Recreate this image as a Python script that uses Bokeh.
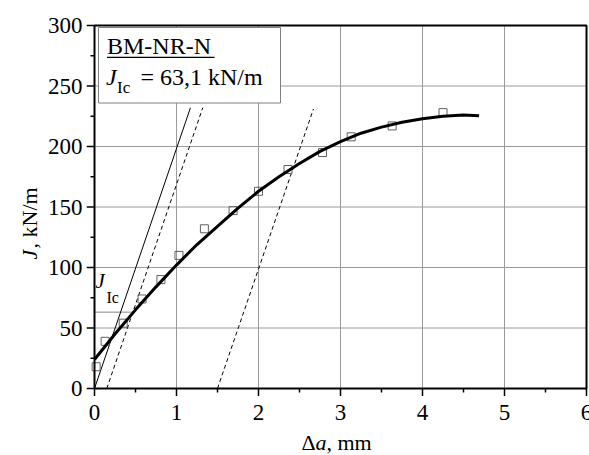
import numpy as np
from bokeh.plotting import figure
from bokeh.layouts import row, column
from bokeh.models import Range1d, Label, BoxAnnotation
from bokeh.embed import file_html
from bokeh.resources import INLINE

# ---------------- data ----------------
da_points = [0.02, 0.13, 0.35, 0.58, 0.81, 1.03, 1.34, 1.69, 2.00, 2.36, 2.78, 3.13, 3.63, 4.25]
j_points = [18, 39, 54, 74, 90, 110, 132, 147, 163, 181, 195, 208, 217, 228]

fit_da = [0, 0.25, 0.5, 0.75, 1.0, 1.25, 1.5, 1.75, 2.0, 2.25, 2.5, 2.75,
          3.0, 3.25, 3.5, 3.75, 4.0, 4.25, 4.5, 4.69]
fit_j = [24, 45, 65, 84, 102, 119, 134, 149, 163, 175, 186, 196,
         204, 211, 216, 220, 223, 225, 226, 225.5]

blunt_x = [0.0, 1.17]
blunt_y = [0, 232]
excl1_x = [0.15, 1.32]
excl1_y = [0, 232]
excl2_x = [1.5, 2.67]
excl2_y = [0, 231]
jic_x = [0.0, 0.47]
jic_y = [63.1, 63.1]

X_MIN, X_MAX = 0, 6
Y_MIN, Y_MAX = 0, 300
x_tick_values = [0, 1, 2, 3, 4, 5, 6]
x_tick_labels = ["0", "1", "2", "3", "4", "5", "6"]
x_minor_values = [0.5, 1.5, 2.5, 3.5, 4.5, 5.5]
y_tick_values = [0, 50, 100, 150, 200, 250, 300]
y_tick_labels = ["0", "50", "100", "150", "200", "250", "300"]
y_minor_values = [25, 75, 125, 175, 225, 275]
x_grid_values = [1, 2, 3, 4, 5]
y_grid_values = [50, 100, 150, 200, 250]

specimen = "BM-NR-N"
jic_text = "= 63,1 kN/m"

FONT = "'Liberation Serif', 'Times New Roman', serif"
TICK_SIZE = 23

# ---------------- geometry (canvas pixels) ----------------
W, H = 589, 455
FL, FR, FT, FB = 94, 586, 25, 388      # plot box edges
SX = (FR - FL) / (X_MAX - X_MIN)       # px per mm
SY = (FB - FT) / (Y_MAX - Y_MIN)       # px per kN/m
MAJ, MIN = 8, 4                         # outward tick lengths (px)
YW = 86                                 # left strip: y tick labels + y title
PH = FB + MAJ                           # main figure height (ends at tick tips)
XH = H - PH                             # bottom strip: x tick labels + x title

def px2x(px):
    return X_MIN + (px - FL) / SX

def px2y(py):
    return Y_MIN + (FB - py) / SY

def bare(width, height, xr, yr):
    f = figure(width=width, height=height, output_backend="svg", toolbar_location=None,
               x_range=xr, y_range=yr, x_axis_location=None, y_axis_location=None,
               min_border=0)
    f.grid.visible = False
    f.outline_line_color = None
    f.background_fill_color = "white"
    f.border_fill_color = "white"
    return f

# main plot: same data scale as the reference box (82 px/mm, 1.21 px per kN/m)
p = bare(W - YW, PH, Range1d(px2x(YW), px2x(W)), Range1d(px2y(PH), px2y(0)))

# grid
p.segment(x0=x_grid_values, y0=[Y_MIN] * len(x_grid_values),
          x1=x_grid_values, y1=[Y_MAX] * len(x_grid_values),
          line_color="#9a9a9a", line_width=1)
p.segment(x0=[X_MIN] * len(y_grid_values), y0=y_grid_values,
          x1=[X_MAX] * len(y_grid_values), y1=y_grid_values,
          line_color="#9a9a9a", line_width=1)

# outward ticks
def xticks(vals, length):
    p.segment(x0=vals, y0=[Y_MIN] * len(vals), x1=vals, y1=[Y_MIN - length / SY] * len(vals),
              line_color="black", line_width=1.5)

def yticks(vals, length):
    p.segment(x0=[X_MIN] * len(vals), y0=vals, x1=[X_MIN - length / SX] * len(vals), y1=vals,
              line_color="black", line_width=1.5)

xticks(x_tick_values, MAJ)
xticks(x_minor_values, MIN)
yticks(y_tick_values, MAJ)
yticks(y_minor_values, MIN)

# ---------------- glyphs ----------------
p.line(jic_x, jic_y, line_color="#888888", line_width=1)
p.line(blunt_x, blunt_y, line_color="black", line_width=1)
p.line(excl1_x, excl1_y, line_color="black", line_width=1, line_dash="4 3")
p.line(excl2_x, excl2_y, line_color="black", line_width=1, line_dash="4 3")
p.scatter(da_points, j_points, marker="square", size=8, fill_color=None,
          line_color="#606060", line_width=1)
p.line(fit_da, fit_j, line_color="black", line_width=3)

# ---------------- annotations ----------------
def lab(fig, x, y, text, size, italic=False, angle=0.0, align="left"):
    fig.add_layout(Label(x=x, y=y, text=text, text_font=FONT,
                         text_font_size=f"{size}px",
                         text_font_style="italic" if italic else "normal",
                         text_align=align, text_baseline="middle",
                         angle=angle, text_color="black"))

def mid(baseline_px, size):
    # vertical centre of the em box from a baseline position
    return baseline_px - 0.3375 * size

# legend box
p.add_layout(BoxAnnotation(left=px2x(98), right=px2x(280), top=px2y(27), bottom=px2y(102.5),
                           fill_color="white", fill_alpha=1.0,
                           line_color="#808080", line_width=1, line_alpha=1.0))
lab(p, px2x(106.5), px2y(mid(53.5, 24)), specimen, 24)
p.add_layout(BoxAnnotation(left=px2x(106.5), right=px2x(214), top=px2y(56.3), bottom=px2y(57.6),
                           fill_color="black", fill_alpha=1.0, line_alpha=0))
lab(p, px2x(105.5), px2y(mid(85, 24)), "J", 24, italic=True)
lab(p, px2x(116.5), px2y(mid(93, 17)), "Ic", 17)
lab(p, px2x(140), px2y(mid(85, 24)), jic_text, 24)

# J_Ic marker label
lab(p, px2x(95), px2y(mid(288, 21)), "J", 21, italic=True)
lab(p, px2x(106), px2y(mid(302, 16)), "Ic", 16)

# plot box (axes lines + top/right border)
p.add_layout(BoxAnnotation(left=X_MIN, right=X_MAX, bottom=Y_MIN, top=Y_MAX,
                           fill_color=None, fill_alpha=0,
                           line_color="black", line_width=2, line_alpha=1.0))

# ---------------- left strip: y tick labels + y title ----------------
# x in canvas pixels, y in data units (same scale as the plot)
yfig = bare(YW, H, Range1d(0, YW), Range1d(px2y(H), px2y(0)))
for v, t in zip(y_tick_values, y_tick_labels):
    lab(yfig, 82, v, t, TICK_SIZE, align="right")
lab(yfig, 36 - 0.3375 * 22, px2y(259), "J", 22, italic=True, angle=np.pi / 2)
lab(yfig, 36 - 0.3375 * 22, px2y(248), ", kN/m", 22, angle=np.pi / 2)

# ---------------- bottom strip: x tick labels + x title ----------------
# x in data units (same scale as the plot), y in canvas pixels
xfig = bare(W - YW, XH, Range1d(px2x(YW), px2x(W)), Range1d(H, PH))
for v, t in zip(x_tick_values, x_tick_labels):
    lab(xfig, v, 412, t, TICK_SIZE, align="center")
lab(xfig, px2x(301), mid(449, 22), "\u0394", 22)
lab(xfig, px2x(315), mid(449, 22), "a", 22, italic=True)
lab(xfig, px2x(326), mid(449, 22), ", mm", 22)

layout = row(yfig, column(p, xfig, spacing=0), spacing=0)
open("out.html", "w").write(file_html(layout, INLINE))
